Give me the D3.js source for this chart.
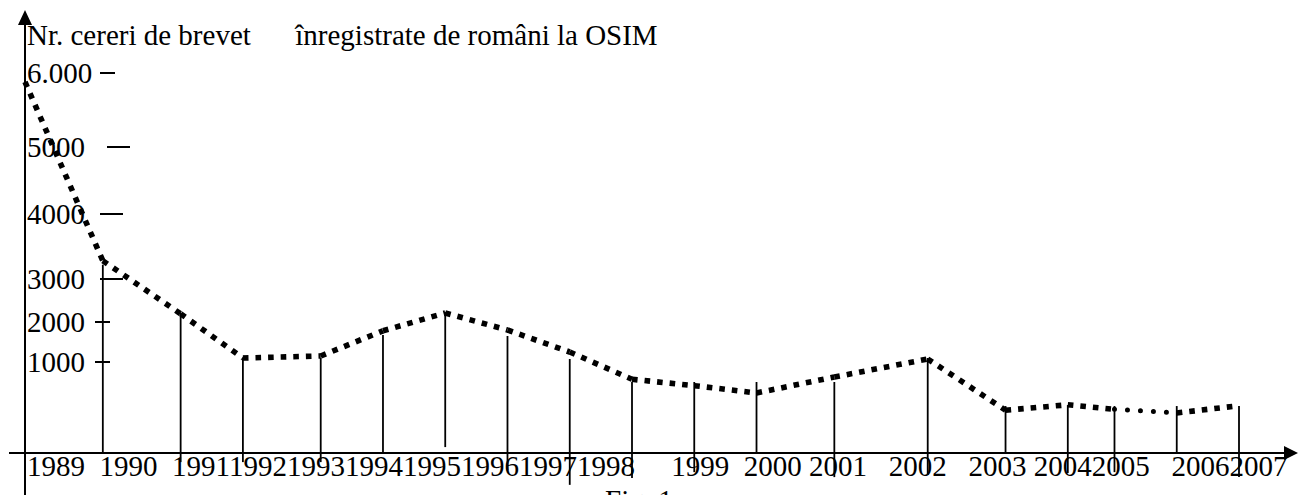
<!DOCTYPE html>
<html><head><meta charset="utf-8">
<script src="https://cdn.jsdelivr.net/npm/d3@7"></script>
<style>body{margin:0;background:#fff} svg{display:block}</style>
</head><body><svg id="c" width="1299" height="495"></svg>
<script>
// ---- data ----
const years      = ["1989","1990","1991","1992","1993","1994","1995","1996","1997","1998","1999","2000","2001","2002","2003","2004","2005","2006","2007"];
const yearSlot   = [0, 5, 10, 14, 19, 23, 27, 31, 35, 39, 43, 47, 52, 58, 63, 67, 70, 74, 78];
const lineValues = [5880, 3280, 2190, 1100, 1150, 1780, 2210, 1800, 1250, 810, 740, 660, 835, 1075, 470, 530, 480, 440, 520];
const stemTop    = [null, 3220, 2210, 1100, 1100, 1675, 2230, 1650, 1075, 780, 780, 780, 780, 1100, 516, 527, 516, 516, 516];
const stemBase   = [null, 0, -100, -100, -100, 0, 65, -190, -350, -275, -210, 0, -265, -240, 0, -220, -210, 0, -265];
const yTickValues = [6000, 5000, 4000, 3000, 2000, 1000];
const yTickLabels = ["6.000", "5000", "4000", "3000", "2000", "1000"];
const labelGaps  = [2, 2, 0, 0, 0, 0, 0, 0, 0, 5, 2, 1, 3, 3, 1, 0, 3, 0, 0];
const titlePart1 = "Nr. cereri de brevet ";
const titlePart2 = " înregistrate de români la OSIM";
const caption = "Fig. 1";

// ---- layout ----
const svg = d3.select("#c");
const FONT = "'Liberation Serif','Times New Roman',serif";
const x = d3.scaleLinear().domain([0, 78]).range([25, 1239]);
const y = d3.scaleLinear()
  .domain([-1000, 0, 1000, 2000, 3000, 4000, 5000, 6000])
  .range([544, 453, 362, 322, 279, 214, 147, 73]);

// title
const t = svg.append("text").attr("x", 27).attr("y", 45)
  .attr("font-family", FONT).attr("font-size", 29).attr("fill", "#000")
  .attr("xml:space", "preserve").style("white-space", "pre");
t.append("tspan").text(titlePart1);
t.append("tspan").attr("x", 288).text(titlePart2);

// y tick labels
svg.append("g").selectAll("text").data(yTickValues).join("text")
  .attr("x", 27).attr("y", d => y(d) + 10)
  .attr("font-family", FONT).attr("font-size", 29).attr("fill", "#000")
  .text((d, i) => yTickLabels[i]);

// y tick marks (hand drawn, irregular)
const tickSpan = {6000: [100, 115], 5000: [107, 130], 4000: [100, 123], 3000: [100, 123], 2000: [95, 110], 1000: [95, 110]};
svg.append("g").selectAll("line").data(yTickValues).join("line")
  .attr("x1", d => tickSpan[d][0]).attr("x2", d => tickSpan[d][1])
  .attr("y1", d => y(d)).attr("y2", d => y(d))
  .attr("stroke", "#000").attr("stroke-width", 2);

// x labels as a flowing line of text
const labelText = years.map((yr, i) => yr + " ".repeat(labelGaps[i])).join("");
svg.append("text").attr("x", 27).attr("y", 476)
  .attr("font-family", FONT).attr("font-size", 29).attr("fill", "#000")
  .attr("xml:space", "preserve").style("white-space", "pre")
  .text(labelText);

// caption (cut by the bottom edge)
svg.append("text").attr("x", 605).attr("y", 510)
  .attr("font-family", FONT).attr("font-size", 29).attr("fill", "#000")
  .text(caption);

// axes
svg.append("line").attr("x1", x(0)).attr("x2", x(0)).attr("y1", 495).attr("y2", 22)
  .attr("stroke", "#000").attr("stroke-width", 2);
svg.append("path").attr("d", `M${x(0)},10 L${x(0) - 7},25 L${x(0) + 7},25 Z`).attr("fill", "#000");
svg.append("line").attr("x1", 9).attr("x2", 1287).attr("y1", y(0)).attr("y2", y(0))
  .attr("stroke", "#000").attr("stroke-width", 2);
svg.append("path").attr("d", `M1298,${y(0)} L1284,${y(0) - 7} L1284,${y(0) + 7} Z`).attr("fill", "#000");

// stems
const idx = d3.range(1, years.length);
svg.append("g").selectAll("line").data(idx).join("line")
  .attr("x1", i => x(yearSlot[i])).attr("x2", i => x(yearSlot[i]))
  .attr("y1", i => y(stemTop[i])).attr("y2", i => y(stemBase[i]))
  .attr("stroke", "#000").attr("stroke-width", 1.8);

// dotted series, drawn segment by segment
const segs = d3.range(0, years.length - 1);
svg.append("g").selectAll("line").data(segs).join("line")
  .attr("x1", i => x(yearSlot[i])).attr("y1", i => y(lineValues[i]))
  .attr("x2", i => x(yearSlot[i + 1])).attr("y2", i => y(lineValues[i + 1]))
  .attr("stroke", "#000")
  .attr("stroke-width", i => years[i] === "2005" ? 5 : 5.6)
  .attr("stroke-linecap", i => years[i] === "2005" ? "round" : "butt")
  .attr("stroke-dasharray", i => years[i] === "2005" ? "0,13" : "5.6,7");
</script>
</body></html>
